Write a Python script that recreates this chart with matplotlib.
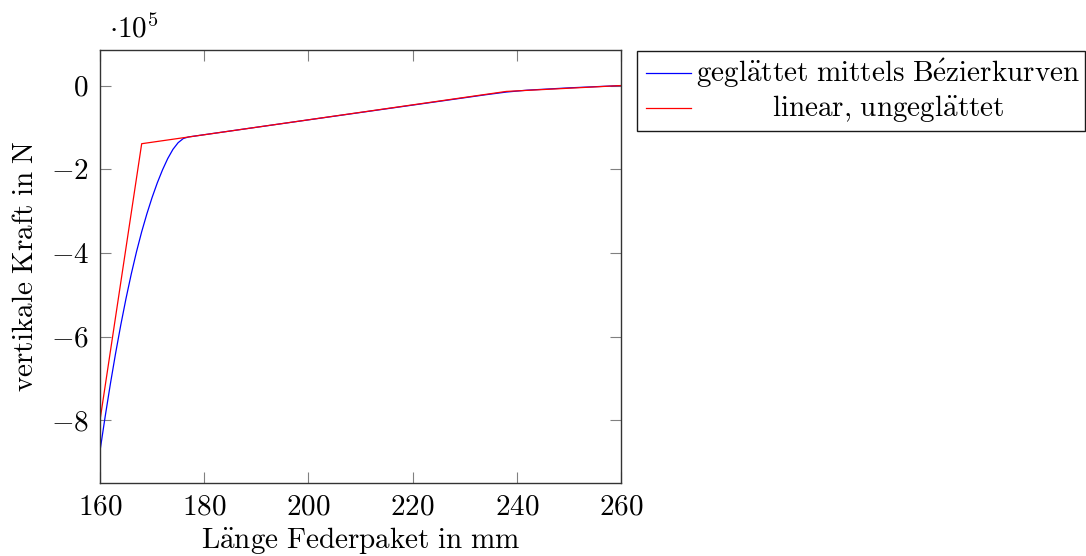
import numpy as np
import matplotlib
matplotlib.use("Agg")
import matplotlib.pyplot as plt
from matplotlib.lines import Line2D
from matplotlib.patches import Rectangle

plt.rcParams['mathtext.fontset'] = 'cm'
plt.rcParams['font.family'] = ['cmr10', 'DejaVu Serif']
plt.rcParams['axes.formatter.use_mathtext'] = True

# Kraft in 1e5 N
# linear, ungeglättet
x_lin = [160.0, 168.0, 238.0, 260.0]
f_lin = [-8.0, -1.39, -0.14, 0.0]

# geglättet (Bezier)
x_bez = [160, 161, 162, 163, 164, 165, 166, 167, 168, 169, 170, 171, 172,
         173, 174, 175, 176, 177, 200, 234, 238, 242, 250, 260]
f_bez = [-8.735, -7.905, -7.125, -6.395, -5.715, -5.085, -4.505, -3.975,
         -3.495, -3.065, -2.675, -2.325, -2.015, -1.745, -1.525, -1.365,
         -1.265, -1.228, -0.82, -0.22, -0.155, -0.11, -0.055, 0.0]

xticks = [160, 180, 200, 220, 240, 260]
yticks = [0, -2, -4, -6, -8]

fs = 21

fig = plt.figure(figsize=(10.86, 5.56), dpi=100)
ax = fig.add_axes([100/1086, 1 - 483/556, 521/1086, 433/556])

ax.plot(x_bez, f_bez, color='blue', lw=0.9)
ax.plot(x_lin, f_lin, color='red', lw=0.9)

ax.set_xlim(160, 260)
ax.set_ylim(-9.5, 0.85)
ax.set_xticks(xticks)
ax.set_yticks(yticks)
ax.set_xticklabels([r'$%d$' % t for t in xticks], fontsize=fs)
ax.set_yticklabels([r'$%d$' % t if t == 0 else r'$-%d$' % -t for t in yticks], fontsize=fs)
ax.tick_params(direction='in', length=8, width=0.8, color='0.5',
               top=True, right=True, pad=8)
for s in ax.spines.values():
    s.set_linewidth(1.0)
    s.set_color('0.2')

ax.set_xlabel(r'$\mathrm{L\ddot{a}nge\ Federpaket\ in\ mm}$', fontsize=fs, labelpad=3)
ax.set_ylabel(r'$\mathrm{vertikale\ Kraft\ in\ N}$', fontsize=fs, labelpad=8)
ax.text(0.018, 1.015, r'$\cdot 10^5$', transform=ax.transAxes, fontsize=fs,
        ha='left', va='bottom')

# Legende rechts neben dem Plot
W, H = 1086, 556
fig.patches.append(Rectangle((637/W, 1 - 131/H), 448/W, 80/H, transform=fig.transFigure,
                             fill=False, edgecolor='0.1', lw=1.0))
fig.lines.append(Line2D([646/W, 691/W], [1 - 73/H] * 2, transform=fig.transFigure,
                        color='blue', lw=0.9))
fig.lines.append(Line2D([646/W, 691/W], [1 - 108/H] * 2, transform=fig.transFigure,
                        color='red', lw=0.9))
fig.text(888/W, 1 - 73/H, r'$\mathrm{gegl\ddot{a}ttet\ mittels\ B\acute{e}zierkurven}$',
         fontsize=fs, ha='center', va='center')
fig.text(888/W, 1 - 108/H, r'$\mathrm{linear{,}\ ungegl\ddot{a}ttet}$',
         fontsize=fs, ha='center', va='center')

fig.savefig('out.png', dpi=100)
